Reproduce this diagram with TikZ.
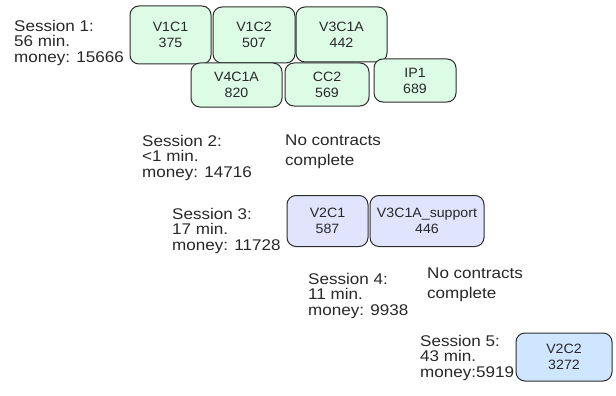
\documentclass[tikz,border=0pt]{standalone}
\usepackage{fontspec}
\setmainfont{Liberation Sans}
\newfontfamily\sessfont[FakeStretch=1.1]{Liberation Sans}
\newfontfamily\taskfont[FakeStretch=1.05]{Liberation Sans}
\definecolor{mint}{RGB}{221,252,229}
\definecolor{lilac}{RGB}{224,228,252}
\definecolor{sky}{RGB}{206,230,255}
\definecolor{edge}{RGB}{45,45,45}
\definecolor{ink}{RGB}{40,40,40}
\begin{document}
\begin{tikzpicture}[x=1pt,y=-1pt,
    task/.style={draw=edge,line width=1pt,rounded corners=9pt,align=center,inner sep=0pt,
        text=ink,font=\taskfont\fontsize{13.5}{16}\selectfont},
    sess/.style={anchor=north west,inner sep=0pt,align=left,text=ink,
        font=\sessfont\fontsize{15.5}{15.5}\selectfont},
    none/.style={anchor=north west,inner sep=0pt,align=left,text=ink,
        font=\sessfont\fontsize{15.5}{20}\selectfont}]
    \fill[white] (0,0) rectangle (616,396);
    \useasboundingbox (0,0) rectangle (616,396);
    % session 1
    \node[sess] (s1) at (14,20) {Session 1:\\56 min.\\money: 15666};
    \node[task,fill=mint,minimum width=81,minimum height=58] (v1c1) at (170.5,35) {V1C1\\375};
    \node[task,fill=mint,minimum width=82,minimum height=56] (v1c2) at (254,35) {V1C2\\507};
    \node[task,fill=mint,minimum width=91,minimum height=55] (v3c1a) at (341.5,34.5) {V3C1A\\442};
    \node[task,fill=mint,minimum width=91,minimum height=44] (v4c1a) at (236.5,85) {V4C1A\\820};
    \node[task,fill=mint,minimum width=84,minimum height=43] (cc2) at (327,84.5) {CC2\\569};
    \node[task,fill=mint,minimum width=82,minimum height=43] (ip1) at (415,80.5) {IP1\\689};
    % session 2
    \node[sess] (s2) at (142,135) {Session 2:\\<1 min.\\money: 14716};
    \node[none] (n2) at (285,135) {No contracts\\complete};
    % session 3
    \node[sess] (s3) at (172,208) {Session 3:\\17 min.\\money: 11728};
    \node[task,fill=lilac,minimum width=81,minimum height=51] (v2c1) at (327.5,221) {V2C1\\587};
    \node[task,fill=lilac,minimum width=114,minimum height=51] (v3sup) at (427,221) {V3C1A\_support\\446};
    % session 4
    \node[sess] (s4) at (308,273) {Session 4:\\11 min.\\money: 9938};
    \node[none] (n4) at (427,268) {No contracts\\complete};
    % session 5
    \node[sess] (s5) at (420,335) {Session 5:\\43 min.\\money:5919};
    \node[task,fill=sky,minimum width=96,minimum height=48] (v2c2) at (564,357) {V2C2\\3272};
\end{tikzpicture}
\end{document}
